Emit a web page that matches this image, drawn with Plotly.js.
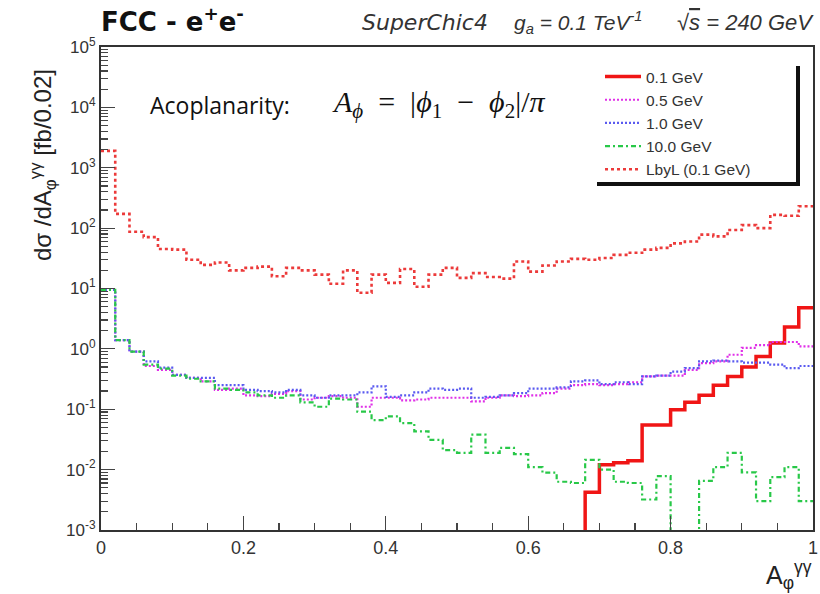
<!DOCTYPE html>
<html>
<head>
<meta charset="utf-8">
<script src="https://cdn.plot.ly/plotly-3.0.1.min.js"></script>
<style>html,body{margin:0;padding:0;background:#fff;}#chart{width:820px;height:594px;}</style>
</head>
<body>
<div id="chart"></div>
<script>
// Bin width 0.02 over A_phi in [0,1] (50 bins); values in fb/0.02 (0 = empty bin)
const binWidth = 0.02;
const nBins = 50;

const seriesNames = ["0.1 GeV", "0.5 GeV", "1.0 GeV", "10.0 GeV", "LbyL (0.1 GeV)"];

const sig_0p1 = [0,0,0,0,0,0,0,0,0,0, 0,0,0,0,0,0,0,0,0,0, 0,0,0,0,0,0,0,0,0,0,
  0,0,0,0,0,0,0,0,0,0, 0,0,0,0,0,0,0,0,0,0];
const sig_0p1_tail = [0.0042,0.012,0.013,0.014,0.055,0.055,0.098,0.13,0.17,0.25,0.35,0.50,0.75,1.25,2.3,4.8]; // bins 34..49

const sig_0p5 = [9.5,1.4,0.90,0.52,0.45,0.37,0.33,0.29,0.21,0.22,
  0.17,0.165,0.18,0.20,0.145,0.155,0.165,0.155,0.11,0.155,
  0.155,0.14,0.145,0.155,0.155,0.155,0.135,0.155,0.17,0.165,
  0.17,0.185,0.22,0.25,0.26,0.25,0.26,0.28,0.35,0.36,
  0.36,0.45,0.58,0.62,0.80,1.04,1.15,1.3,1.3,1.1];

const sig_1p0 = [9.5,1.4,0.90,0.62,0.49,0.37,0.33,0.33,0.25,0.25,
  0.21,0.20,0.19,0.21,0.17,0.155,0.17,0.17,0.19,0.24,
  0.16,0.17,0.19,0.22,0.21,0.22,0.155,0.16,0.17,0.185,
  0.22,0.22,0.23,0.29,0.30,0.26,0.28,0.26,0.35,0.36,
  0.42,0.48,0.62,0.64,0.62,0.59,0.59,0.55,0.48,0.52];

const sig_10 = [9.5,1.4,0.90,0.55,0.47,0.36,0.32,0.29,0.22,0.21,
  0.19,0.17,0.155,0.17,0.13,0.11,0.15,0.145,0.091,0.066,
  0.076,0.059,0.043,0.031,0.021,0.019,0.038,0.019,0.023,0.018,
  0.011,0.0089,0.0063,0.006,0.0145,0.010,0.0063,0.006,0.0032,0.0078,
  0,0,0.0065,0.011,0.019,0.009,0.003,0.0075,0.011,0.003];

const sig_lbyl = [1900,172,87,71,45,44,30,24.6,27,20,
  22,23,16,22,20,17,12,20,8.5,17,
  12.4,21,10.7,17,22,15,18,15.5,14.6,28,
  19,24,28,31,30,32,36,39,44,47,
  56,60,78,73,93,112,100,166,160,230];

// fill 0.1 GeV tail into full-length array
const sig01 = sig_0p1.slice();
for (let i = 0; i < sig_0p1_tail.length; i++) sig01[nBins - sig_0p1_tail.length + i] = sig_0p1_tail[i];

const xTickVals = [0, 0.2, 0.4, 0.6, 0.8, 1];
const xTickText = ["0", "0.2", "0.4", "0.6", "0.8", "1"];
const yTickVals = [1e-3, 1e-2, 1e-1, 1, 10, 100, 1e3, 1e4, 1e5];
const yTickText = ["10<sup>-3</sup>","10<sup>-2</sup>","10<sup>-1</sup>","10<sup>0</sup>","10<sup>1</sup>","10<sup>2</sup>","10<sup>3</sup>","10<sup>4</sup>","10<sup>5</sup>"];

const FLOOR = 1e-7; // empty bins drawn below the visible range

function stepTrace(vals, name, line) {
  const x = [], y = [];
  for (let i = 0; i < vals.length; i++) {
    x.push(i * binWidth);
    y.push(vals[i] > 0 ? vals[i] : FLOOR);
  }
  x.push(vals.length * binWidth);
  y.push(vals[vals.length - 1] > 0 ? vals[vals.length - 1] : FLOOR);
  return {x: x, y: y, name: name, type: 'scatter', mode: 'lines',
          line: Object.assign({shape: 'hv'}, line), hoverinfo: 'skip'};
}

const traces = [
  stepTrace(sig01, seriesNames[0], {color: '#f01515', width: 3.5}),
  stepTrace(sig_0p5, seriesNames[1], {color: '#e030e8', width: 2.2, dash: '2px,2px'}),
  stepTrace(sig_1p0, seriesNames[2], {color: '#5a5af0', width: 2.2, dash: '2px,2px'}),
  stepTrace(sig_10, seriesNames[3], {color: '#28c848', width: 2.2, dash: '5px,3px,2px,3px'}),
  stepTrace(sig_lbyl, seriesNames[4], {color: '#ec3a3a', width: 2.6, dash: '3px,3px'})
];

const L = 101, R = 813, T = 47, B = 530, W = 820, H = 594;
const px = v => (v - L) / (R - L);
const py = v => (B - v) / (B - T);

const layout = {
  width: W, height: H,
  margin: {l: L, r: W - R, t: T, b: H - B, pad: 0},
  paper_bgcolor: '#ffffff', plot_bgcolor: '#ffffff',
  font: {family: 'Liberation Sans, Arial, sans-serif', color: '#333'},
  showlegend: true,
  legend: {
    x: px(600), y: py(60), xanchor: 'left', yanchor: 'top',
    bgcolor: 'rgba(255,255,255,0)', borderwidth: 0,
    font: {size: 15.5, color: '#333', family: 'Liberation Sans, Arial, sans-serif'},
    tracegroupgap: 0, itemwidth: 36
  },
  xaxis: {
    range: [0, 1], showgrid: false, zeroline: false,
    showline: true, linecolor: '#333', linewidth: 2, mirror: true,
    ticks: 'inside', ticklen: 14, tickwidth: 1.2, tickcolor: '#444',
    tickvals: xTickVals, ticktext: xTickText,
    tickfont: {size: 18, color: '#333'},
    minor: {ticks: 'inside', ticklen: 7, tickwidth: 1.2, tickcolor: '#444', dtick: 0.05, showgrid: false}
  },
  yaxis: {
    type: 'log', range: [-3, 5], showgrid: false, zeroline: false,
    showline: true, linecolor: '#333', linewidth: 2, mirror: true,
    ticks: 'inside', ticklen: 14, tickwidth: 1.2, tickcolor: '#444',
    tickvals: yTickVals, ticktext: yTickText,
    tickfont: {size: 17, color: '#333'},
    minor: {ticks: 'inside', ticklen: 7, tickwidth: 1.2, tickcolor: '#444', dtick: 'D1', showgrid: false}
  },
  shapes: [
    {type: 'line', xref: 'paper', yref: 'paper', x0: px(798), x1: px(798), y0: py(66), y1: py(185), line: {color: '#111', width: 4}},
    {type: 'line', xref: 'paper', yref: 'paper', x0: px(597), x1: px(800), y0: py(184), y1: py(184), line: {color: '#111', width: 4}}
  ],
  annotations: [
    {xref: 'paper', yref: 'paper', x: px(99), y: py(20), xanchor: 'left', yanchor: 'middle', showarrow: false,
     text: '<b>FCC - e<sup>+</sup>e<sup>-</sup></b>', font: {size: 26, color: '#111', family: 'DejaVu Sans, sans-serif'}},
    {xref: 'paper', yref: 'paper', x: px(360), y: py(23), xanchor: 'left', yanchor: 'middle', showarrow: false,
     text: '<i>SuperChic4</i>', font: {size: 22, color: '#333', family: 'DejaVu Sans, sans-serif'}},
    {xref: 'paper', yref: 'paper', x: px(512), y: py(23), xanchor: 'left', yanchor: 'middle', showarrow: false,
     text: '<i>g<sub>a</sub> = 0.1 TeV<sup>-1</sup></i>', font: {size: 21, color: '#333', family: 'Liberation Sans, Arial, sans-serif'}},
    {xref: 'paper', yref: 'paper', x: px(816), y: py(23), xanchor: 'right', yanchor: 'middle', showarrow: false,
     text: '<i>\u221A<span style="text-decoration:overline">s</span> = 240 GeV</i>',
     font: {size: 22, color: '#333', family: 'Liberation Sans, Arial, sans-serif'}},
    {xref: 'paper', yref: 'paper', x: px(148), y: py(105), xanchor: 'left', yanchor: 'middle', showarrow: false,
     text: 'Acoplanarity:', font: {size: 23, color: '#111', family: 'Open Sans, Liberation Sans, sans-serif'}},
    {xref: 'paper', yref: 'paper', x: px(330), y: py(104), xanchor: 'left', yanchor: 'middle', showarrow: false,
     text: '<i>A</i><sub><i>\u03D5</i></sub>  =  |<i>\u03D5</i><sub>1</sub>  \u2212  <i>\u03D5</i><sub>2</sub>|/<i>\u03C0</i>',
     font: {size: 30, color: '#111', family: 'Liberation Serif, DejaVu Serif, serif'}},
    {xref: 'paper', yref: 'paper', x: px(43), y: py(165), xanchor: 'center', yanchor: 'middle', showarrow: false, textangle: -90,
     text: 'd\u03C3 /dA<sub>\u03C6</sub><sup>\u03B3\u03B3</sup> [fb/0.02]',
     font: {size: 24, color: '#222', family: 'Liberation Sans, Arial, sans-serif'}},
    {xref: 'paper', yref: 'paper', x: px(814), y: py(575), xanchor: 'right', yanchor: 'middle', showarrow: false,
     text: 'A<sub>\u03C6</sub><sup>\u03B3\u03B3</sup>',
     font: {size: 25, color: '#222', family: 'Liberation Sans, Arial, sans-serif'}}
  ]
};

Plotly.newPlot('chart', traces, layout, {staticPlot: true, displayModeBar: false});
</script>
</body>
</html>
